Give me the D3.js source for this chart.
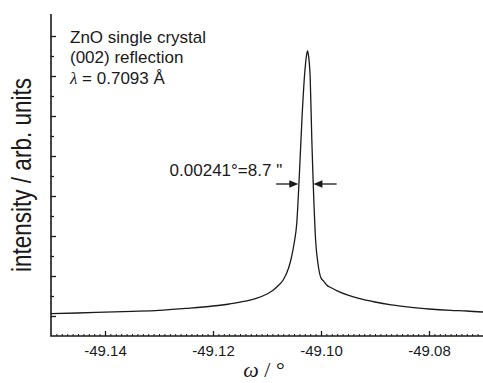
<!DOCTYPE html>
<html>
<head>
	<title>ZnO rocking curve</title>
	<script src="https://d3js.org/d3.v7.min.js"></script>
	<style>
	body{
		margin: 0;
		background: #ffffff;
	}
	#chart{
		width: 483px;
		height: 383px;
	}
	text{
		font-family: "Liberation Sans", Arial, Helvetica, sans-serif;
		fill: #1a1a1a;
	}
	.axis path, .axis line{
		stroke: #1a1a1a;
	}
	</style>
</head>
<body>
	<div id="chart"></div>

	<script>
		// omega in degrees, intensity in arb. units
		var omega = [-49.150, -49.145, -49.140, -49.135, -49.130, -49.125, -49.120, -49.117,
			-49.114, -49.112, -49.110, -49.109, -49.108, -49.107, -49.106, -49.1055,
			-49.105, -49.1045, -49.104, -49.1035, -49.103, -49.1027, -49.1025, -49.1023,
			-49.102, -49.1017, -49.1015, -49.101, -49.1005, -49.100, -49.0995, -49.099,
			-49.098, -49.097, -49.095, -49.093, -49.090, -49.087, -49.084, -49.080,
			-49.076, -49.073, -49.070];
		var intensity = [0.06, 0.075, 0.095, 0.115, 0.14, 0.19, 0.25, 0.30,
			0.37, 0.44, 0.55, 0.63, 0.75, 0.90, 1.20, 1.45,
			1.80, 2.30, 3.55, 5.00, 6.10, 6.50, 6.63, 6.50,
			5.95, 4.40, 3.55, 1.90, 1.25, 0.95, 0.87, 0.78,
			0.70, 0.63, 0.52, 0.44, 0.35, 0.28, 0.23, 0.175,
			0.14, 0.125, 0.10];

		var xTicks = [-49.14, -49.12, -49.10, -49.08];
		var xTickLabels = ["-49.14", "-49.12", "-49.10", "-49.08"];
		var yMajor = [0, 1, 2, 3, 4, 5, 6, 7];
		var yMinor = [0.5, 1.5, 2.5, 3.5, 4.5, 5.5, 6.5];

		// FWHM marker: arrow tails -> tips, at half maximum
		var fwhmTail = [-49.1083, -49.0971];
		var fwhmTip = [-49.1042, -49.1014];
		var halfMax = 3.3;

		var infoLines = ["ZnO single crystal", "(002) reflection"];

		var margin = {top: 14, right: 0, bottom: 47, left: 51},
			width = 483 - margin.left - margin.right,
			height = 383 - margin.top - margin.bottom;

		var svg = d3.select("#chart")
			.append("svg")
			.attr("width", 483)
			.attr("height", 383);

		var g = svg.append("g")
			.attr("transform", "translate(" + margin.left + "," + margin.top + ")");

		var x = d3.scaleLinear().domain([-49.15, -49.07]).range([0, width]);
		var y = d3.scaleLinear().domain([-0.5, 7.55]).range([height, 0]);

		// minor ticks along the x axis, every 0.001
		var xMinor = d3.range(-49.149, -49.0705, 0.001);
		g.append("g")
			.attr("class", "axis")
			.attr("transform", "translate(0," + height + ")")
			.call(d3.axisBottom(x).tickValues(xMinor).tickSize(-2).tickFormat(""))
			.call(function(s){ s.select(".domain").remove(); })
			.selectAll("line").attr("stroke-width", 1);

		// major x ticks with labels
		var xAxis = g.append("g")
			.attr("class", "axis")
			.attr("transform", "translate(0," + height + ")")
			.call(d3.axisBottom(x)
				.tickValues(xTicks)
				.tickSize(-5)
				.tickPadding(9)
				.tickFormat(function(d, i){ return xTickLabels[i]; }));
		xAxis.select(".domain").remove();
		xAxis.selectAll("line").attr("stroke-width", 1.3);
		xAxis.selectAll("text")
			.style("font-family", "'Liberation Sans', Arial, sans-serif")
			.style("font-size", "15px")
			.attr("fill", "#1a1a1a");

		// y ticks point inward, no labels
		g.append("g")
			.attr("class", "axis")
			.call(d3.axisLeft(y).tickValues(yMajor).tickSize(-5).tickFormat(""))
			.call(function(s){ s.select(".domain").remove(); })
			.selectAll("line").attr("stroke-width", 1.3);
		g.append("g")
			.attr("class", "axis")
			.call(d3.axisLeft(y).tickValues(yMinor).tickSize(-3).tickFormat(""))
			.call(function(s){ s.select(".domain").remove(); })
			.selectAll("line").attr("stroke-width", 1.3);

		// axis lines (left and bottom only)
		g.append("path")
			.attr("d", "M0,0V" + height + "H" + width)
			.attr("fill", "none")
			.attr("stroke", "#1a1a1a")
			.attr("stroke-width", 1.6);

		// the scan
		var points = omega.map(function(d, i){ return [d, intensity[i]]; });
		var line = d3.line()
			.x(function(d){ return x(d[0]); })
			.y(function(d){ return y(d[1]); })
			.curve(d3.curveMonotoneX);

		g.append("path")
			.datum(points)
			.attr("d", line)
			.attr("fill", "none")
			.attr("stroke", "#1a1a1a")
			.attr("stroke-width", 1.3);

		// FWHM arrows
		var arrows = g.append("g");
		fwhmTail.forEach(function(t, i){
			var x0 = x(t), x1 = x(fwhmTip[i]), yy = y(halfMax);
			var dir = x1 > x0 ? 1 : -1;
			arrows.append("line")
				.attr("x1", x0).attr("y1", yy)
				.attr("x2", x1 - dir * 6).attr("y2", yy)
				.attr("stroke", "#1a1a1a")
				.attr("stroke-width", 1.3);
			arrows.append("path")
				.attr("d", "M" + x1 + "," + yy + "L" + (x1 - dir * 9) + "," + (yy - 3.8) +
					"L" + (x1 - dir * 9) + "," + (yy + 3.8) + "Z")
				.attr("fill", "#1a1a1a");
		});

		g.append("text")
			.attr("x", x(fwhmTail[0]) + 6)
			.attr("y", y(halfMax) - 8.5)
			.attr("text-anchor", "end")
			.style("font-size", "17px")
			.text("0.00241\u00b0=8.7 \"");

		// sample info, top left
		var info = svg.append("text")
			.attr("x", 70)
			.attr("y", 43)
			.style("font-size", "17px");
		infoLines.forEach(function(t, i){
			info.append("tspan")
				.attr("x", 70)
				.attr("dy", i === 0 ? 0 : 20.3)
				.text(t);
		});
		var lam = info.append("tspan")
			.attr("x", 70)
			.attr("dy", 20.3);
		lam.append("tspan")
			.style("font-family", "'Liberation Serif', 'Times New Roman', serif")
			.style("font-style", "italic")
			.text("\u03bb");
		lam.append("tspan").text(" = 0.7093 \u00c5");

		// axis titles
		svg.append("text")
			.attr("transform", "translate(31,175) rotate(-90)")
			.attr("text-anchor", "middle")
			.attr("textLength", 194)
			.attr("lengthAdjust", "spacingAndGlyphs")
			.style("font-size", "27px")
			.text("intensity / arb. units");

		var xt = svg.append("text")
			.attr("x", 264)
			.attr("y", 377)
			.attr("text-anchor", "middle")
			.style("font-size", "22px")
			.style("font-family", "'Liberation Serif', 'Times New Roman', serif");
		xt.append("tspan").style("font-style", "italic").text("\u03c9");
		xt.append("tspan").text(" / \u00b0");
	</script>
</body>
</html>
